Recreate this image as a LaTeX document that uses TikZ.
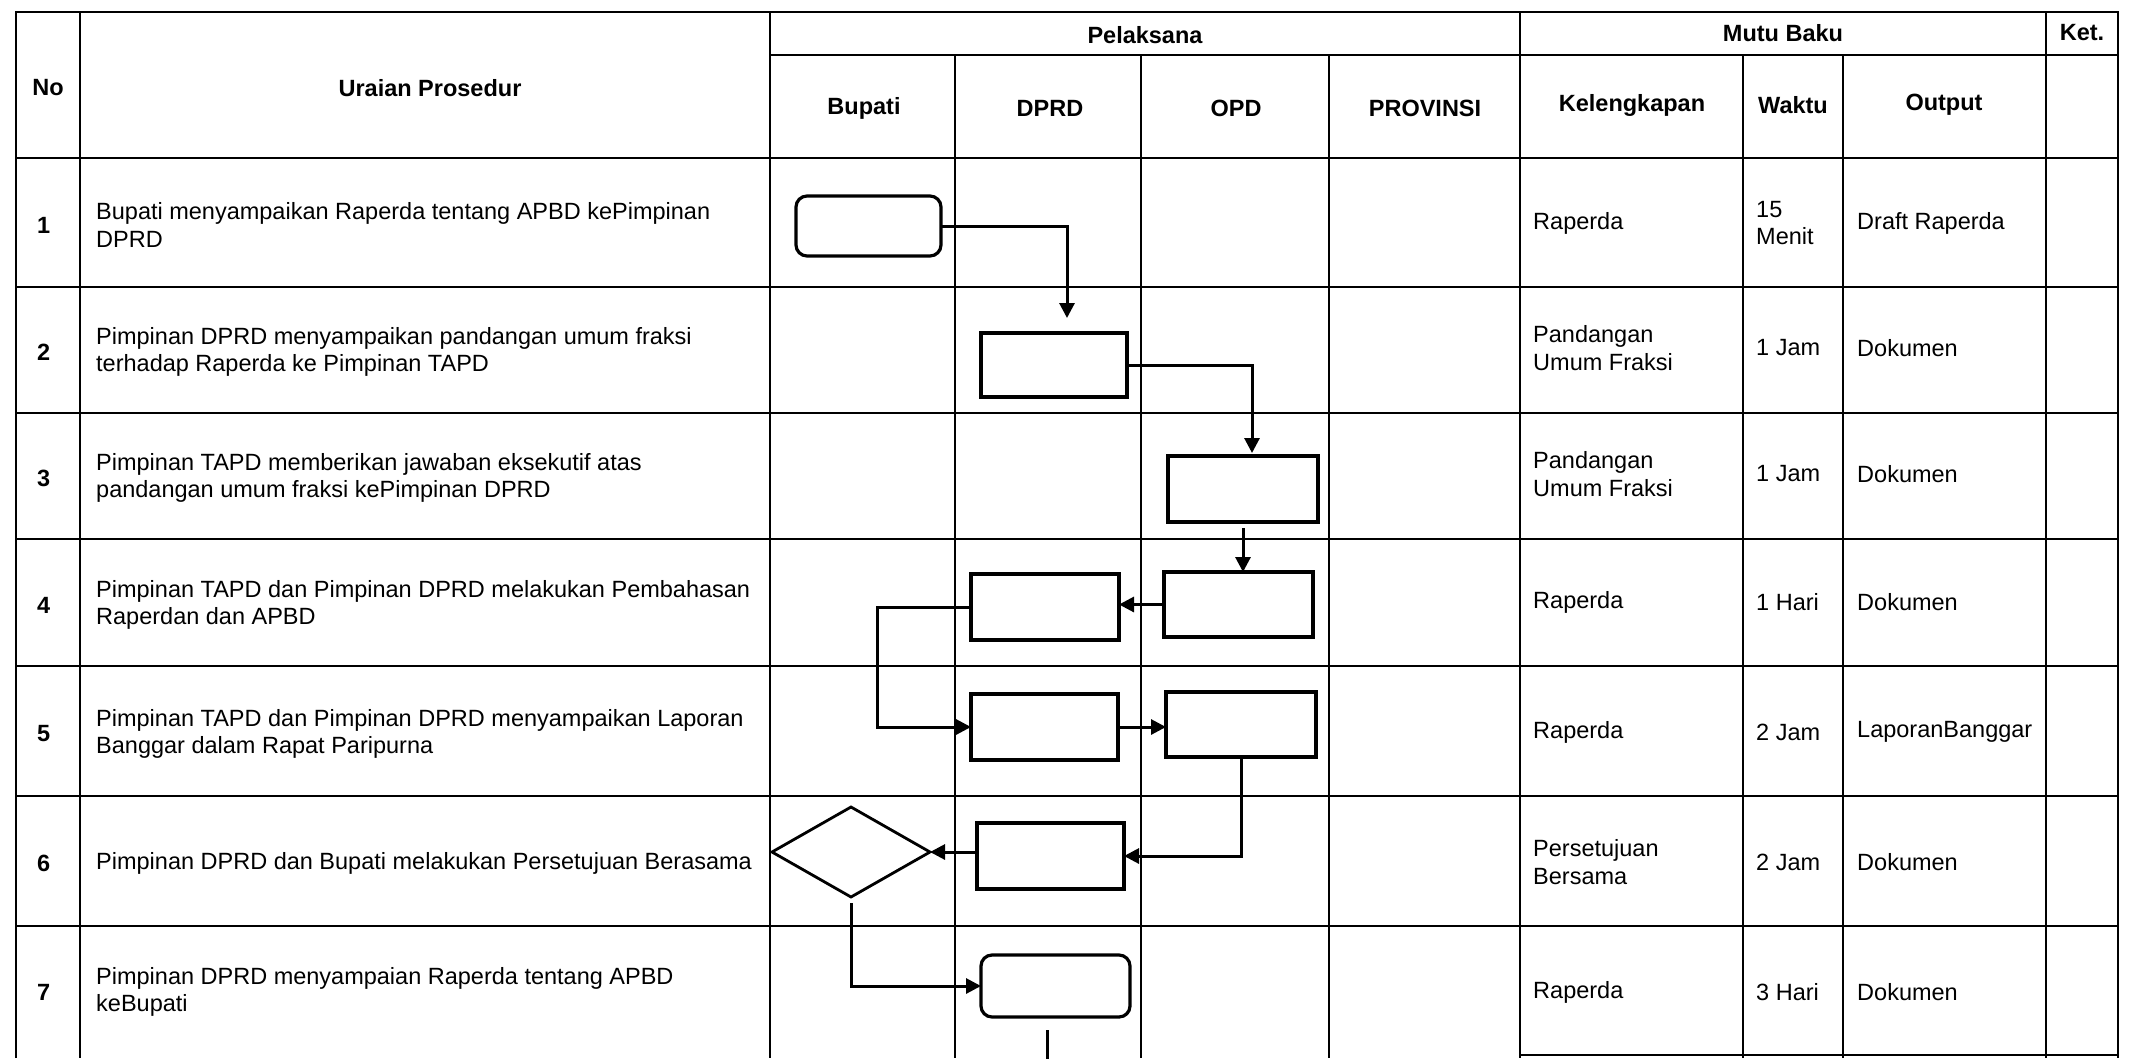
\documentclass[tikz,border=0pt]{standalone}
\usepackage{fontspec}
\setmainfont{Liberation Sans}
\usetikzlibrary{shapes.geometric,arrows.meta,calc}
\newcommand{\myfs}{\fontsize{23.5}{27.5}\selectfont}
\begin{document}
\begin{tikzpicture}[x=1pt,y=-1pt,
  tline/.style={line width=1.8pt},
  hdr/.style={font=\bfseries\myfs, inner sep=0pt, align=center},
  txt/.style={font=\myfs, inner sep=0pt, align=left, anchor=west},
  num/.style={txt, font=\bfseries\myfs},
  fbox/.style={draw, fill=white, line width=3.2pt, inner sep=0pt, outer sep=0pt},
  rbox/.style={fbox, rounded corners=11pt},
  dec/.style={draw, fill=white, diamond, line width=2.8pt, inner sep=0pt, outer sep=0pt, minimum width=158pt, minimum height=90pt},
  conn/.style={line width=3pt},
  arr/.style={conn, -{Triangle[length=15pt,width=15pt]}}
]
\fill[white] (0,0) rectangle (2130,1058);
\useasboundingbox (0,0) rectangle (2130,1058);

% ---- table grid ----
\draw[tline] (16,1058) -- (16,12) -- (2118,12) -- (2118,1058);
\draw[tline] (770,55) -- (2118,55);
\foreach \yy in {158,287,413,539,666,796,926} {\draw[tline] (16,\yy) -- (2118,\yy);}
\draw[tline] (1520,1055) -- (2118,1055);
\foreach \xx in {80,770,1520,2046} {\draw[tline] (\xx,12) -- (\xx,1058);}
\foreach \xx in {955,1141,1329,1743,1843} {\draw[tline] (\xx,55) -- (\xx,1058);}

% ---- headers ----
\node[hdr] (hNo) at (48,88) {No};
\node[hdr] (hUr) at (430,88) {Uraian Prosedur};
\node[hdr] (hPel) at (1145,35) {Pelaksana};
\node[hdr] (hMutu) at (1783,33) {Mutu Baku};
\node[hdr] (hKet) at (2082,33) {Ket.};
\node[hdr] (hBup) at (864,108) {Bupati};
\node[hdr] (hDPRD) at (1050,108) {DPRD};
\node[hdr] (hOPD) at (1236,108) {OPD};
\node[hdr] (hProv) at (1425,108) {PROVINSI};
\node[hdr] (hKel) at (1632,105) {Kelengkapan};
\node[hdr] (hWak) at (1793,105) {Waktu};
\node[hdr] (hOut) at (1944,105) {Output};

% ---- rows ----
\node[num] (n1) at (37,225) {1};
\node[txt] (u1) at (96,225) {Bupati menyampaikan Raperda tentang APBD kePimpinan\\DPRD};
\node[txt] (k1) at (1533,223) {Raperda};
\node[txt] (w1) at (1756,223) {15\\Menit};
\node[txt] (o1) at (1857,223) {Draft Raperda};

\node[num] (n2) at (37,352) {2};
\node[txt] (u2) at (96,352) {Pimpinan DPRD menyampaikan pandangan umum fraksi\\terhadap Raperda ke Pimpinan TAPD};
\node[txt] (k2) at (1533,348) {Pandangan\\Umum Fraksi};
\node[txt] (w2) at (1756,348) {1 Jam};
\node[txt] (o2) at (1857,348) {Dokumen};

\node[num] (n3) at (37,478) {3};
\node[txt] (u3) at (96,478) {Pimpinan TAPD memberikan jawaban eksekutif atas\\pandangan umum fraksi kePimpinan DPRD};
\node[txt] (k3) at (1533,474) {Pandangan\\Umum Fraksi};
\node[txt] (w3) at (1756,474) {1 Jam};
\node[txt] (o3) at (1857,474) {Dokumen};

\node[num] (n4) at (37,605) {4};
\node[txt] (u4) at (96,605) {Pimpinan TAPD dan Pimpinan DPRD melakukan Pembahasan\\Raperdan dan APBD};
\node[txt] (k4) at (1533,602) {Raperda};
\node[txt] (w4) at (1756,602) {1 Hari};
\node[txt] (o4) at (1857,602) {Dokumen};

\node[num] (n5) at (37,734) {5};
\node[txt] (u5) at (96,734) {Pimpinan TAPD dan Pimpinan DPRD menyampaikan Laporan\\Banggar dalam Rapat Paripurna};
\node[txt] (k5) at (1533,732) {Raperda};
\node[txt] (w5) at (1756,732) {2 Jam};
\node[txt] (o5) at (1857,732) {LaporanBanggar};

\node[num] (n6) at (37,863) {6};
\node[txt] (u6) at (96,863) {Pimpinan DPRD dan Bupati melakukan Persetujuan Berasama};
\node[txt] (k6) at (1533,862) {Persetujuan\\Bersama};
\node[txt] (w6) at (1756,862) {2 Jam};
\node[txt] (o6) at (1857,862) {Dokumen};

\node[num] (n7) at (37,992) {7};
\node[txt] (u7) at (96,992) {Pimpinan DPRD menyampaian Raperda tentang APBD\\keBupati};
\node[txt] (k7) at (1533,992) {Raperda};
\node[txt] (w7) at (1756,992) {3 Hari};
\node[txt] (o7) at (1857,992) {Dokumen};

% ---- flow shapes ----
\node[rbox, minimum width=145pt, minimum height=60pt] (b1) at (868.5,226) {};
\node[fbox, minimum width=146pt, minimum height=64pt] (b2) at (1054,365) {};
\node[fbox, minimum width=150pt, minimum height=66pt] (b3) at (1243,489) {};
\node[fbox, minimum width=148pt, minimum height=66pt] (b4d) at (1045,607) {};
\node[fbox, minimum width=149pt, minimum height=65pt] (b4o) at (1238.5,604.5) {};
\node[fbox, minimum width=147pt, minimum height=66pt] (b5d) at (1044.5,727) {};
\node[fbox, minimum width=150pt, minimum height=65pt] (b5o) at (1241,724.5) {};
\node[fbox, minimum width=147pt, minimum height=66pt] (b6d) at (1050.5,856) {};
\node[dec] (dia) at (851,852) {};
\node[rbox, minimum width=149pt, minimum height=62pt] (b7) at (1055.5,986) {};
\coordinate (fin) at (1047,1062);

% ---- connectors ----
\draw[arr] (b1.east) -| ($(b2.north)+(13,-15)$);
\draw[arr] (b2.east) -| ($(b3.north)+(9,-3)$);
\draw[arr, shorten <=6pt] (b3.south) -- (b3.south |- b4o.north);
\draw[arr] (b4o.west) -- (b4o.west -| b4d.east);
\draw[arr] (b4d.west) -- ++(-94,0) |- (b5d.west);
\draw[arr] (b5d.east) -- (b5d.east -| b5o.west);
\draw[arr] (b5o.south) |- (b6d.east);
\draw[arr] (dia.east -| b6d.west) -- (dia.east);
\draw[arr, shorten <=6pt] (dia.south) |- (b7.west);
\draw[conn, shorten <=13pt] (b7.south -| fin) -- (fin);
\end{tikzpicture}
\end{document}
